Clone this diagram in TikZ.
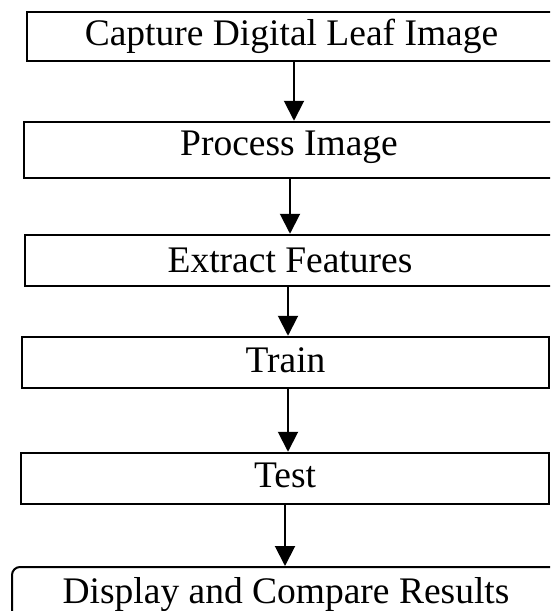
\documentclass[tikz,border=0pt]{standalone}
\usepackage{fontspec}
\setmainfont{Liberation Serif}
\usetikzlibrary{arrows.meta}
\begin{document}
\begin{tikzpicture}[x=1pt,y=-1pt,
  stepbox/.style={draw, line width=2.5pt, inner sep=0pt, font=\fontsize{37.5}{40}\selectfont, text depth=0pt},
  arr/.style={line width=2pt, -{Triangle[width=20pt,length=20pt]}}]
\useasboundingbox (0,0) rectangle (550,611);
\clip (0,0) rectangle (550,611);
\node[stepbox, minimum width=529pt, minimum height=49pt, text height=17pt] (b1) at (291.5,36.5) {Capture Digital Leaf Image};
\node[stepbox, minimum width=530pt, minimum height=56pt, text height=10pt] (b2) at (289,150) {Process Image};
\node[stepbox, minimum width=530pt, minimum height=51pt, text height=23pt] (b3) at (290,260.5) {Extract Features};
\node[stepbox, minimum width=527pt, minimum height=51pt, text height=19pt] (b4) at (285.5,362.5) {Train};
\node[stepbox, minimum width=528pt, minimum height=51pt, text height=17pt] (b5) at (285,478.5) {Test};
\node[stepbox, rounded corners=8pt, line width=2pt, minimum width=548pt, minimum height=63pt, text height=9pt] (b6) at (286,598.5) {Display and Compare Results};
\path ([xshift=2.5pt]b1.south) coordinate (a1);
\path ([xshift=1pt]b2.south) coordinate (a2);
\path ([xshift=-2pt]b3.south) coordinate (a3);
\path ([xshift=2.5pt]b4.south) coordinate (a4);
\path (b5.south) coordinate (a5);
\draw[arr] (a1) -- (a1 |- b2.north);
\draw[arr] (a2) -- (a2 |- b3.north);
\draw[arr] (a3) -- (a3 |- b4.north);
\draw[arr] (a4) -- (a4 |- b5.north);
\draw[arr] (a5) -- (a5 |- b6.north);
\end{tikzpicture}
\end{document}
